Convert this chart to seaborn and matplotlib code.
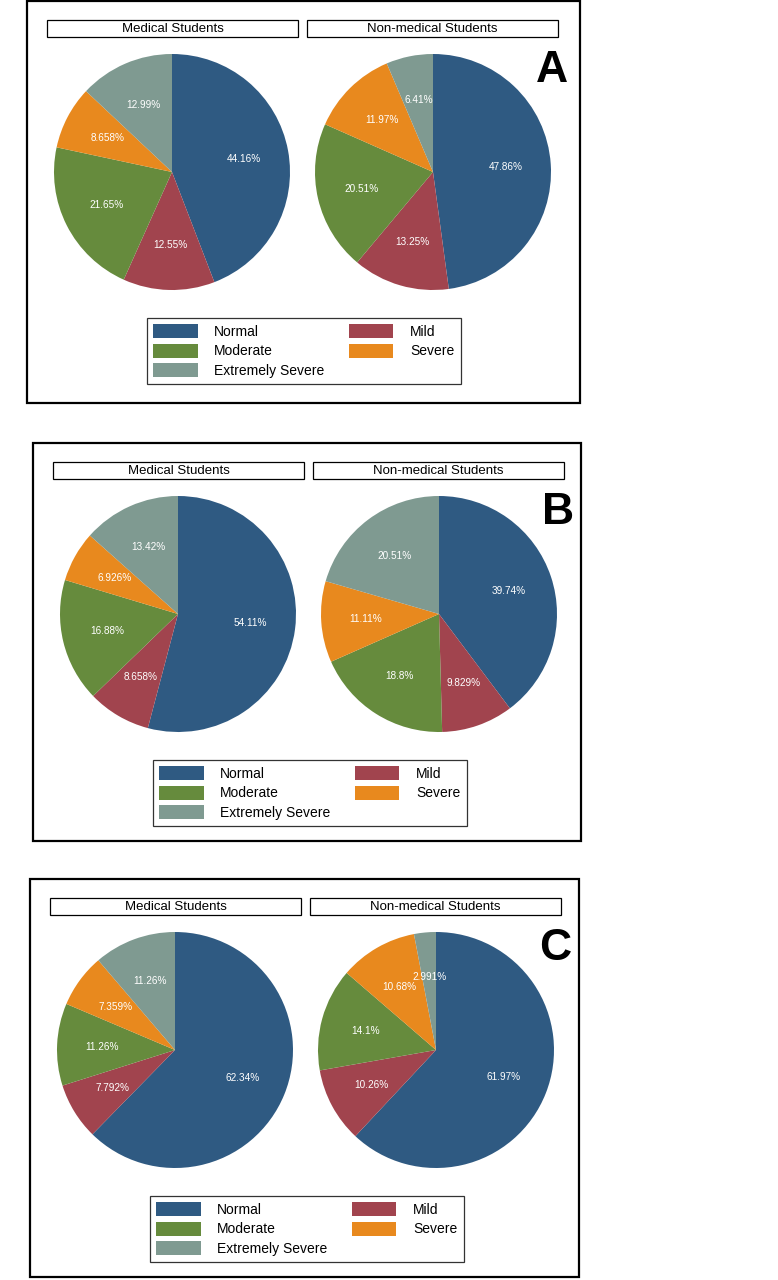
import matplotlib
matplotlib.use("Agg")
import matplotlib.pyplot as plt
from matplotlib.patches import Rectangle
import seaborn as sns

# categories and colours
categories = ["Normal", "Mild", "Moderate", "Severe", "Extremely Severe"]
palette = sns.color_palette(["#2f5a82", "#a1444e", "#668b3d", "#e8891e", "#7f9a91"])

groups = ["Medical Students", "Non-medical Students"]
panel_letters = ["A", "B", "C"]

# percentages per panel (medical, non-medical)
a_medical = [44.16, 12.55, 21.65, 8.658, 12.99]
a_nonmedical = [47.86, 13.25, 20.51, 11.97, 6.41]
b_medical = [54.11, 8.658, 16.88, 6.926, 13.42]
b_nonmedical = [39.74, 9.829, 18.8, 11.11, 20.51]
c_medical = [62.34, 7.792, 11.26, 7.359, 11.26]
c_nonmedical = [61.97, 10.26, 14.1, 10.68, 2.991]

panel_data = [(a_medical, a_nonmedical), (b_medical, b_nonmedical), (c_medical, c_nonmedical)]

sns.set_theme(style="white")
plt.rcParams["font.family"] = ["Liberation Sans", "DejaVu Sans"]
plt.rcParams["text.color"] = "black"

W, H = 778, 1280
fig = plt.figure(figsize=(W / 100, H / 100), dpi=100)


def rect(x, y, w, h):
    # pixel box (top-left origin) -> figure fraction
    return [x / W, 1 - (y + h) / H, w / W, h / H]


# panel frames in pixels: left, top, width, height
frames = [(27, 1, 553, 402), (33, 443, 548, 398), (30, 879, 549, 398)]

for (L, T, BW, BH), letter, vals in zip(frames, panel_letters, panel_data):
    r = rect(L, T, BW, BH)
    fig.add_artist(Rectangle((r[0], r[1]), r[2], r[3], transform=fig.transFigure,
                             fill=False, ec="black", lw=1.6))

    wedges = None
    for j, (group, values) in enumerate(zip(groups, vals)):
        hx = L + 20 + j * 260
        hr = rect(hx, T + 19, 251, 17)
        fig.add_artist(Rectangle((hr[0], hr[1]), hr[2], hr[3], transform=fig.transFigure,
                                 fill=False, ec="black", lw=0.9))
        fig.text(hr[0] + hr[2] / 2, hr[1] + hr[3] / 2, group, ha="center", va="center",
                 fontsize=9.5, color="black")

        cx = L + 145 + j * 261
        cy = T + 171
        rad = 118
        ax = fig.add_axes(rect(cx - rad, cy - rad, 2 * rad, 2 * rad))
        it = iter(values)
        wedges, _, autotexts = ax.pie(values, colors=palette, startangle=90, counterclock=False,
                                      autopct=lambda p: f"{next(it):.4g}%", pctdistance=0.62,
                                      wedgeprops=dict(linewidth=0),
                                      textprops=dict(color="white", fontsize=7.2))
        ax.set_xlim(-1, 1)
        ax.set_ylim(-1, 1)
        ax.set_aspect("equal")
        ax.axis("off")

    fig.text((L + 525) / W, 1 - (T + 70) / H, letter, ha="center", va="center",
             fontsize=32, fontweight="bold", color="black")

    order = [0, 2, 4, 1, 3]
    leg = fig.legend([wedges[k] for k in order], [categories[k] for k in order],
                     loc="upper left", bbox_to_anchor=((L + 120) / W, 1 - (T + 317) / H),
                     bbox_transform=fig.transFigure, ncol=2, fontsize=10, frameon=True,
                     fancybox=False, edgecolor="black", borderpad=0.45, handlelength=3.2,
                     handleheight=1.15, handletextpad=1.2, labelspacing=0.36, columnspacing=1.75,
                     borderaxespad=0, labelcolor="black")
    leg.get_frame().set_linewidth(0.9)

fig.savefig("out.png", dpi=100, facecolor="white")
